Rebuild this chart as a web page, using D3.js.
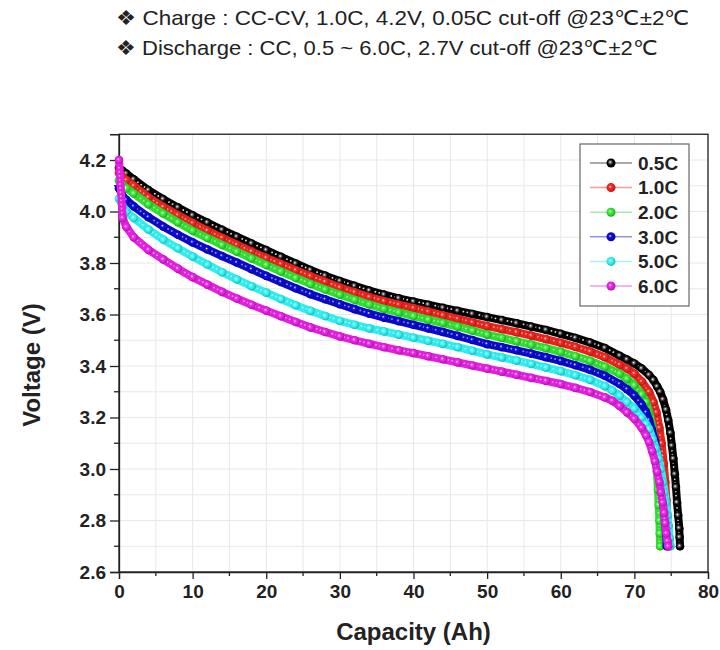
<!DOCTYPE html>
<html>
<head>
<meta charset="utf-8">
<script src="https://cdn.jsdelivr.net/npm/d3@7"></script>
<style>
  body { margin: 0; background: #fff; }
  text { font-family: "Liberation Sans", Arial, sans-serif; }
</style>
</head>
<body>
<svg id="chart" width="720" height="650"></svg>
<script>
// C-rate labels and colours
const rates = ["0.5C", "1.0C", "2.0C", "3.0C", "5.0C", "6.0C"];
const colors = ["#000000", "#e8231c", "#30dc30", "#0a0ac8", "#30ecec", "#e020dc"];

const xTicks = [0, 10, 20, 30, 40, 50, 60, 70, 80];
const yTicks = [2.6, 2.8, 3.0, 3.2, 3.4, 3.6, 3.8, 4.0, 4.2];

// capacity grid (Ah) for the sloping part, shared by all series
const bodyCap = [0, 0.5, 1, 2, 4, 6, 8, 10, 12, 14, 16, 18, 20, 22, 24, 26, 28, 30, 32, 34,
  36, 38, 40, 42, 44, 46, 48, 50, 52, 54, 56, 58, 60, 62, 64, 66];

// voltage read at bodyCap
const bodyV05 = [4.17, 4.158, 4.147, 4.125, 4.083, 4.048, 4.016, 3.985, 3.957, 3.929, 3.902, 3.876,
  3.85, 3.824, 3.798, 3.773, 3.751, 3.73, 3.711, 3.693, 3.677, 3.663, 3.65, 3.638, 3.626, 3.614,
  3.602, 3.59, 3.578, 3.566, 3.553, 3.54, 3.525, 3.509, 3.491, 3.47];
const bodyV10 = [4.15, 4.135, 4.122, 4.10, 4.055, 4.018, 3.986, 3.955, 3.926, 3.898, 3.871, 3.845,
  3.82, 3.796, 3.772, 3.749, 3.727, 3.705, 3.686, 3.668, 3.652, 3.638, 3.625, 3.611, 3.597, 3.583,
  3.569, 3.555, 3.543, 3.531, 3.518, 3.504, 3.49, 3.474, 3.456, 3.434];
const bodyV20 = [4.12, 4.103, 4.09, 4.07, 4.028, 3.992, 3.958, 3.925, 3.897, 3.87, 3.844, 3.818,
  3.792, 3.767, 3.742, 3.719, 3.697, 3.677, 3.657, 3.639, 3.622, 3.608, 3.594, 3.58, 3.567, 3.553,
  3.537, 3.522, 3.509, 3.496, 3.483, 3.469, 3.455, 3.438, 3.42, 3.397];
const bodyV30 = [4.09, 4.06, 4.045, 4.02, 3.978, 3.942, 3.91, 3.88, 3.853, 3.827, 3.802, 3.776,
  3.75, 3.726, 3.702, 3.679, 3.659, 3.64, 3.621, 3.603, 3.588, 3.574, 3.56, 3.546, 3.532, 3.517,
  3.501, 3.485, 3.473, 3.461, 3.448, 3.434, 3.42, 3.403, 3.385, 3.362];
const bodyV50 = [4.05, 4.02, 4.0, 3.975, 3.93, 3.891, 3.857, 3.825, 3.794, 3.764, 3.736, 3.71,
  3.685, 3.66, 3.636, 3.614, 3.594, 3.575, 3.56, 3.546, 3.534, 3.522, 3.51, 3.498, 3.486, 3.473,
  3.459, 3.445, 3.433, 3.421, 3.408, 3.394, 3.38, 3.364, 3.346, 3.322];
const bodyV60 = [4.20, 3.975, 3.94, 3.90, 3.851, 3.814, 3.778, 3.745, 3.716, 3.688, 3.662, 3.638,
  3.615, 3.593, 3.571, 3.55, 3.532, 3.515, 3.5, 3.486, 3.473, 3.461, 3.45, 3.438, 3.426, 3.414,
  3.402, 3.39, 3.378, 3.366, 3.354, 3.342, 3.33, 3.315, 3.299, 3.278];

// knee and cut-off tail of every series
const tailCap05 = [68, 69, 70, 71, 72, 72.6, 73.1, 73.5, 73.9, 74.3, 74.6, 74.9, 75.1, 75.3, 75.5,
  75.65, 75.8, 75.95, 76.1, 76.15, 76.2];
const tailV05 = [3.44, 3.425, 3.41, 3.39, 3.365, 3.345, 3.32, 3.30, 3.27, 3.23, 3.19, 3.14, 3.09,
  3.04, 2.98, 2.93, 2.87, 2.82, 2.77, 2.735, 2.70];
const tailCap10 = [68, 69, 70, 71, 72, 72.6, 73.0, 73.4, 73.7, 74.0, 74.2, 74.35, 74.5, 74.6, 74.7];
const tailV10 = [3.405, 3.39, 3.37, 3.34, 3.30, 3.26, 3.22, 3.16, 3.10, 3.02, 2.95, 2.88, 2.81, 2.75, 2.70];
const tailCap20 = [68, 69, 70, 71, 71.6, 72.0, 72.4, 72.7, 72.9, 73.05, 73.2, 73.3, 73.4, 73.45, 73.5];
const tailV20 = [3.37, 3.35, 3.325, 3.29, 3.26, 3.22, 3.17, 3.11, 3.05, 2.99, 2.92, 2.86, 2.80, 2.75, 2.70];
const tailCap30 = [68, 69, 70, 71, 71.6, 72.0, 72.4, 72.8, 73.1, 73.4, 73.6, 73.8, 74.0, 74.15, 74.3, 74.4];
const tailV30 = [3.33, 3.31, 3.285, 3.25, 3.22, 3.19, 3.15, 3.11, 3.06, 3.01, 2.96, 2.91, 2.85, 2.80, 2.75, 2.70];
const tailCap50 = [67, 68, 69, 70, 71, 71.6, 72.0, 72.5, 72.9, 73.3, 73.6, 73.9, 74.1, 74.3, 74.5,
  74.65, 74.8, 74.9];
const tailV50 = [3.305, 3.285, 3.26, 3.235, 3.20, 3.175, 3.155, 3.115, 3.08, 3.04, 3.00, 2.95, 2.91,
  2.87, 2.82, 2.78, 2.73, 2.70];
const tailCap60 = [67, 68, 69, 70, 71, 71.6, 72.0, 72.4, 72.8, 73.1, 73.4, 73.6, 73.85, 74.05, 74.2,
  74.35, 74.5, 74.6];
const tailV60 = [3.265, 3.245, 3.22, 3.195, 3.16, 3.13, 3.105, 3.07, 3.03, 2.99, 2.95, 2.91, 2.87,
  2.83, 2.79, 2.75, 2.72, 2.70];

const series = [
  { cap: bodyCap.concat(tailCap05), volt: bodyV05.concat(tailV05) },
  { cap: bodyCap.concat(tailCap10), volt: bodyV10.concat(tailV10) },
  { cap: bodyCap.concat(tailCap20), volt: bodyV20.concat(tailV20) },
  { cap: bodyCap.concat(tailCap30), volt: bodyV30.concat(tailV30) },
  { cap: bodyCap.concat(tailCap50), volt: bodyV50.concat(tailV50) },
  { cap: bodyCap.concat(tailCap60), volt: bodyV60.concat(tailV60) }
].map((s, i) => ({
  name: rates[i],
  color: colors[i],
  points: d3.zip(s.cap, s.volt)
}));

const svg = d3.select("#chart");

const plotLeft = 119, plotRight = 708, plotTop = 134.25, plotBottom = 572;

const x = d3.scaleLinear().domain([0, 80]).range([plotLeft, plotRight]);
const y = d3.scaleLinear().domain([2.6, 4.3]).range([plotBottom, plotTop]);

// sphere-like marker fills
const defs = svg.append("defs");
series.forEach((s, i) => {
  const g = defs.append("radialGradient")
    .attr("id", "ball" + i)
    .attr("cx", "45%").attr("cy", "45%").attr("r", "55%")
    .attr("fx", "40%").attr("fy", "40%");
  g.append("stop").attr("offset", "0%").attr("stop-color", "#ffffff");
  g.append("stop").attr("offset", "30%").attr("stop-color", i === 0 ? "#555" : d3.color(s.color).brighter(0.6));
  g.append("stop").attr("offset", "60%").attr("stop-color", s.color);
  g.append("stop").attr("offset", "100%").attr("stop-color", d3.color(s.color).darker(0.8));
});

// title lines
const titles = [
  "❖ Charge : CC-CV, 1.0C, 4.2V, 0.05C cut-off @23℃±2℃",
  "❖ Discharge : CC, 0.5 ~ 6.0C, 2.7V cut-off @23℃±2℃"
];
const titleWidths = [574, 542];
svg.selectAll(".title")
  .data(titles)
  .enter()
  .append("text")
  .attr("class", "title")
  .attr("x", 116)
  .attr("y", (d, i) => 25 + i * 30)
  .attr("textLength", (d, i) => titleWidths[i])
  .attr("lengthAdjust", "spacingAndGlyphs")
  .style("font-size", "21px")
  .style("fill", "#222")
  .text((d) => d);

// grid
const xGrid = d3.range(0, 81, 5);
const yGrid = d3.range(26, 44).map((v) => v / 10);
svg.append("g")
  .selectAll("line")
  .data(xGrid)
  .enter()
  .append("line")
  .attr("x1", (d) => x(d)).attr("x2", (d) => x(d))
  .attr("y1", plotTop).attr("y2", plotBottom)
  .style("stroke", "#e8e8e8");
svg.append("g")
  .selectAll("line")
  .data(yGrid)
  .enter()
  .append("line")
  .attr("x1", plotLeft).attr("x2", plotRight)
  .attr("y1", (d) => y(d)).attr("y2", (d) => y(d))
  .style("stroke", "#e8e8e8");

// frame
svg.append("rect")
  .attr("x", plotLeft).attr("y", plotTop)
  .attr("width", plotRight - plotLeft).attr("height", plotBottom - plotTop)
  .style("fill", "none")
  .style("stroke", "#222")
  .style("stroke-width", 1.3);

// axes
const xAxis = d3.axisBottom(x).tickValues(xTicks).tickFormat(d3.format("d")).tickSize(7).tickPadding(6);
const yAxis = d3.axisLeft(y).tickValues(yTicks).tickFormat(d3.format(".1f")).tickSize(9).tickPadding(4);

const gx = svg.append("g").attr("transform", `translate(0, ${plotBottom})`).call(xAxis);
const gy = svg.append("g").attr("transform", `translate(${plotLeft}, 0)`).call(yAxis);
[gx, gy].forEach((g) => {
  g.select(".domain").style("stroke", "#222").style("stroke-width", 1.3);
  g.selectAll(".tick line").style("stroke", "#222").style("stroke-width", 1.3);
  g.selectAll(".tick text")
    .style("font-size", "19px")
    .style("font-weight", "bold")
    .style("fill", "#222")
    .style("font-family", '"Liberation Sans", Arial, sans-serif');
});

// minor ticks
svg.append("g")
  .selectAll("line")
  .data(d3.range(5, 80, 10))
  .enter()
  .append("line")
  .attr("x1", (d) => x(d)).attr("x2", (d) => x(d))
  .attr("y1", plotBottom).attr("y2", plotBottom + 4)
  .style("stroke", "#222").style("stroke-width", 1.3);
svg.append("g")
  .selectAll("line")
  .data(d3.range(27, 43, 2).map((v) => v / 10))
  .enter()
  .append("line")
  .attr("x1", plotLeft - 5).attr("x2", plotLeft)
  .attr("y1", (d) => y(d)).attr("y2", (d) => y(d))
  .style("stroke", "#222").style("stroke-width", 1.3);

// curves: a thick band, a dotted sheen for the dense beads, then the markers
const line = d3.line().x((d) => x(d[0])).y((d) => y(d[1]));
const plot = svg.append("g");
series.forEach((s, i) => {
  plot.append("path")
    .datum(s.points)
    .attr("d", line)
    .style("fill", "none")
    .style("stroke", s.color)
    .style("stroke-width", 8)
    .style("stroke-linejoin", "round")
    .style("stroke-linecap", "round");
  plot.append("path")
    .datum(s.points)
    .attr("d", line)
    .attr("transform", "translate(-0.6, -0.6)")
    .style("fill", "none")
    .style("stroke", "#fff")
    .style("stroke-opacity", i === 0 ? 0.85 : 0.55)
    .style("stroke-width", 1.8)
    .style("stroke-dasharray", "0.1 4")
    .style("stroke-linecap", "round");
  plot.append("g")
    .selectAll("circle")
    .data(s.points)
    .enter()
    .append("circle")
    .attr("cx", (d) => x(d[0]))
    .attr("cy", (d) => y(d[1]))
    .attr("r", 4.3)
    .style("fill", `url(#ball${i})`);
});

// legend
const legend = svg.append("g");
legend.append("rect")
  .attr("x", 580).attr("y", 144)
  .attr("width", 109).attr("height", 162)
  .style("fill", "#fff")
  .style("stroke", "#666")
  .style("stroke-width", 1.2);
const rows = legend.selectAll(".row")
  .data(series)
  .enter()
  .append("g")
  .attr("transform", (d, i) => `translate(0, ${163 + i * 24.6})`);
rows.append("line")
  .attr("x1", 590).attr("x2", 632)
  .style("stroke", (d) => d.color)
  .style("stroke-opacity", 0.45)
  .style("stroke-width", 1.5);
rows.append("circle")
  .attr("cx", 611).attr("r", 4.5)
  .style("fill", (d, i) => `url(#ball${i})`);
rows.append("text")
  .attr("x", 638)
  .attr("dy", "0.36em")
  .style("font-size", "19px")
  .style("font-weight", "bold")
  .style("fill", "#222")
  .text((d) => d.name);

// axis titles
svg.append("text")
  .attr("transform", `translate(${(plotLeft + plotRight) / 2}, 640)`)
  .style("text-anchor", "middle")
  .style("font-size", "24px")
  .style("font-weight", "bold")
  .style("fill", "#222")
  .text("Capacity (Ah)");

svg.append("text")
  .attr("transform", "translate(40, 365) rotate(-90)")
  .style("text-anchor", "middle")
  .style("font-size", "24px")
  .style("font-weight", "bold")
  .style("fill", "#222")
  .text("Voltage (V)");
</script>
</body>
</html>
